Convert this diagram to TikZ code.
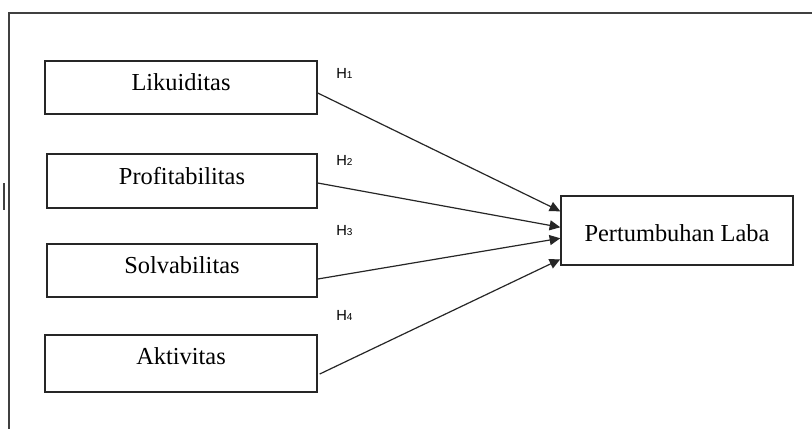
\documentclass[tikz,border=0pt]{standalone}
\usepackage{fontspec}
\setmainfont{Liberation Serif}
\newfontfamily\hfont{Liberation Sans}
\usetikzlibrary{calc,arrows.meta}
\begin{document}
\begin{tikzpicture}[x=0.75pt,y=-0.75pt,
  varbox/.style={draw=black!85,line width=1.1pt,rectangle,inner sep=2pt,
    font=\fontsize{18.3}{22}\selectfont,text height=12pt,text depth=7.5pt},
  conn/.style={draw=black!85,line width=0.9pt,-{Triangle[length=8pt,width=7.5pt]}},
  hlab/.style={anchor=base west,inner sep=0pt,font=\hfont\fontsize{11}{13}\selectfont},
  frame/.style={draw=black!75,line width=1.2pt}]
\useasboundingbox (0,0) rectangle (812,429);
\fill[white] (0,0) rectangle (812,429);
% frame
\coordinate (ftl) at (9,13);
\coordinate (ftr) at (812,13);
\coordinate (fbl) at (9,429);
\draw[frame] (ftr) -- (ftl) -- (fbl);
\coordinate (ma) at (4,183);
\coordinate (mb) at (4,210);
\draw[draw=black!75,line width=1pt] (ma) -- (mb);
% boxes
\node[varbox,minimum width=204pt,minimum height=39.75pt] (lik) at (181,87.5) {Likuiditas};
\node[varbox,minimum width=202.5pt,minimum height=40.5pt] (pro) at (182,181) {Profitabilitas};
\node[varbox,minimum width=202.5pt,minimum height=39.75pt] (sol) at (182,270.5) {Solvabilitas};
\node[varbox,minimum width=204pt,minimum height=42.75pt,text height=12pt,text depth=11.25pt] (akt) at (181,363.5) {Aktivitas};
\node[varbox,minimum width=174pt,minimum height=51.75pt,text height=16pt,text depth=0.2pt] (pl) at (677,230.5) {Pertumbuhan Laba};
% connectors
\draw[conn] ($(lik.east)+(0,5.5)$) -- ($(pl.north west)+(0,16)$);
\draw[conn] ($(pro.east)+(0,2)$) -- ($(pl.north west)+(0,32)$);
\draw[conn] ($(sol.east)+(0,8.5)$) -- ($(pl.north west)+(0,43)$);
\draw[conn] ($(akt.east)+(2,10.5)$) -- ($(pl.north west)+(0,64)$);
% labels
\node[hlab] (h1) at (336,78) {H{\fontsize{7.5}{8}\selectfont 1}};
\node[hlab] (h2) at (336,165) {H{\fontsize{7.5}{8}\selectfont 2}};
\node[hlab] (h3) at (336,235) {H{\fontsize{7.5}{8}\selectfont 3}};
\node[hlab] (h4) at (336,320) {H{\fontsize{7.5}{8}\selectfont 4}};
\end{tikzpicture}
\end{document}
